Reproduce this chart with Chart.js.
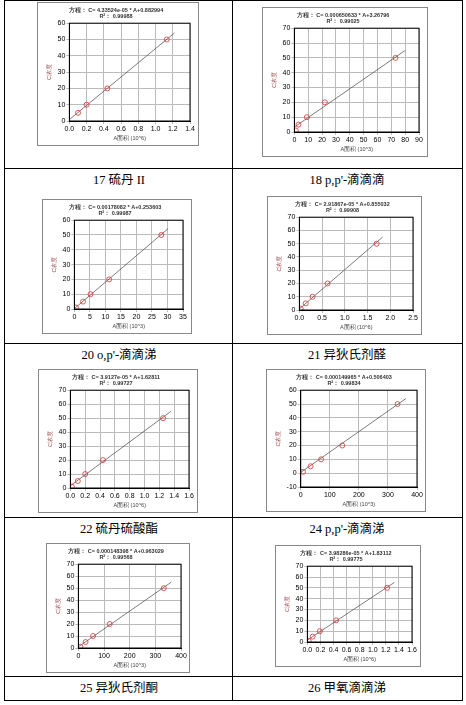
<!DOCTYPE html>
<html><head><meta charset="utf-8">
<script src="https://cdn.jsdelivr.net/npm/chart.js@4"></script>
<style>
body{margin:0;background:#fff;width:466px;height:705px;position:relative;overflow:hidden;font-family:"Liberation Serif","Noto Sans CJK SC",serif}
.hl{position:absolute;left:4px;width:459px;height:1px;background:#000}
.vl{position:absolute;top:0;width:1px;height:701px;background:#000}
.cap{position:absolute;width:228px;text-align:center;font-size:12.5px;line-height:14px}
.box{position:absolute;border:1px solid #888;box-sizing:border-box;background:#fff}
</style></head><body>
<script>
// concentrations (same for every compound except the first, which has no low point)
const concentrations = [[5,10,20,50],[1,5,10,20,50],[1,5,10,20,50],[1,5,10,20,50],[1,5,10,20,50],[1,5,10,20,50],[1,5,10,20,50],[1,5,10,20,50]];
const areas = [
  [0.1,0.2,0.44,1.13],
  [1,3,9,22,73],
  [0.5,2.8,5.2,11.2,28],
  [0.03,0.14,0.29,0.62,1.7],
  [0.02,0.1,0.2,0.44,1.25],
  [8,34,70,143,333],
  [8,28,57,122,333],
  [0.02,0.08,0.19,0.44,1.22]
];
const fitX = [[0,1.22],[0,80],[0,30.2],[0,1.83],[0,1.36],[0,362],[0,362],[0,1.33]];
const fitY = [[0.9,54],[3.3,55],[0.25,54.3],[0.86,55],[1.6,55],[0.5,54],[1,55],[1.8,55]];
const xMax = [1.4,90,35,2.5,1.6,400,400,1.6];
const xStep = [0.2,10,5,0.5,0.2,100,100,0.2];
const yMin = [0,0,0,0,0,-10,0,0];
const yMax = [60,70,60,70,70,60,70,70];
const equations = [
  '方程： C= 4.33524e-05 * A+0.882994',
  '方程： C= 0.000650633 * A+3.26796',
  '方程： C= 0.00178082 * A+0.253603',
  '方程： C= 2.91867e-05 * A+0.855032',
  '方程： C= 3.9127e-05 * A+1.62811',
  '方程： C= 0.000149965 * A+0.506403',
  '方程： C= 0.000148398 * A+0.963029',
  '方程： C= 3.98286e-05 * A+1.83112'
];
const r2 = ['0.99988','0.99025','0.99987','0.99908','0.99727','0.99834','0.99568','0.99775'];
const units = ['(10^6)','(10^3)','(10^3)','(10^6)','(10^6)','(10^3)','(10^3)','(10^6)'];
const captions = ['17 硫丹 II',"18 p,p'-滴滴滴","20 o,p'-滴滴涕",'21 异狄氏剂醛','22 硫丹硫酸酯',"24 p,p'-滴滴涕",'25 异狄氏剂酮','26 甲氧滴滴涕'];

// frame boxes [left, top, width, height]
const boxes = [[37,2,162,144],[262,7,166,150],[42,199,150,135],[267,196,155,139],[38,369,160,144],[266,369,160,143],[46,543,144,130],[275,545,146,122]];
const rowLines = [0,168,343,517,676,700];
const capY = [173,348,522,681];

rowLines.forEach(y => { const d = document.createElement('div'); d.className = 'hl'; d.style.top = y + 'px'; document.body.appendChild(d); });
[4,232,462].forEach(x => { const d = document.createElement('div'); d.className = 'vl'; d.style.left = x + 'px'; document.body.appendChild(d); });
captions.forEach((c, i) => {
  const d = document.createElement('div'); d.className = 'cap';
  d.style.left = (i % 2 ? 233 : 5) + 'px'; d.style.top = capY[Math.floor(i / 2)] + 'px';
  d.textContent = c; document.body.appendChild(d);
});

const frame = {
  id: 'frame',
  afterDraw(chart) {
    const { ctx, chartArea: a } = chart;
    ctx.save(); ctx.strokeStyle = '#000'; ctx.lineWidth = 1;
    ctx.strokeRect(a.left, a.top, a.right - a.left, a.bottom - a.top);
    ctx.restore();
  }
};

boxes.forEach((b, i) => {
  const div = document.createElement('div'); div.className = 'box';
  Object.assign(div.style, { left: b[0] + 'px', top: b[1] + 'px', width: b[2] + 'px', height: b[3] + 'px' });
  const cv = document.createElement('canvas'); div.appendChild(cv); document.body.appendChild(div);
  cv.width = b[2] - 2; cv.height = b[3] - 2;
  new Chart(cv, {
    type: 'scatter',
    data: {
      datasets: [
        { data: areas[i].map((x, k) => ({ x, y: concentrations[i][k] })), pointStyle: 'circle', pointRadius: 2.5,
          borderColor: '#e03030', backgroundColor: 'rgba(0,0,0,0)', borderWidth: 0.8 },
        { type: 'line', data: fitX[i].map((x, k) => ({ x, y: fitY[i][k] })), borderColor: '#444', borderWidth: 0.7, pointRadius: 0 }
      ]
    },
    options: {
      responsive: false, animation: false,
      layout: { padding: { left: 4, right: 8, top: 0, bottom: 2 } },
      plugins: {
        legend: { display: false }, tooltip: { enabled: false },
        title: { display: true, text: [equations[i], 'R²： ' + r2[i]], color: '#333',
          font: { size: 5.5, family: 'Liberation Sans' }, padding: { top: 4, bottom: 3 } }
      },
      scales: {
        x: { type: 'linear', min: 0, max: xMax[i],
          ticks: { stepSize: xStep[i], autoSkip: false, maxRotation: 0, minRotation: 0, color: '#000',
            font: { size: 7, family: 'Liberation Sans' }, padding: 1,
            callback: v => xStep[i] < 1 ? v.toFixed(1) : v },
          grid: { color: '#bbb', borderDash: [1, 2], tickLength: 3 },
          border: { color: '#000' },
          title: { display: true, text: 'A面积 ' + units[i], color: '#444', font: { size: 5.5 }, padding: 1 } },
        y: { min: yMin[i], max: yMax[i],
          ticks: { stepSize: 10, autoSkip: false, color: '#000', font: { size: 7, family: 'Liberation Sans' }, padding: 1 },
          grid: { color: '#bbb', borderDash: [1, 2], tickLength: 3 },
          border: { color: '#000' },
          title: { display: true, text: 'C浓度', color: '#a05050', font: { size: 5.5 }, padding: 4 } }
      }
    },
    plugins: [frame]
  });
});
</script>
</body></html>
